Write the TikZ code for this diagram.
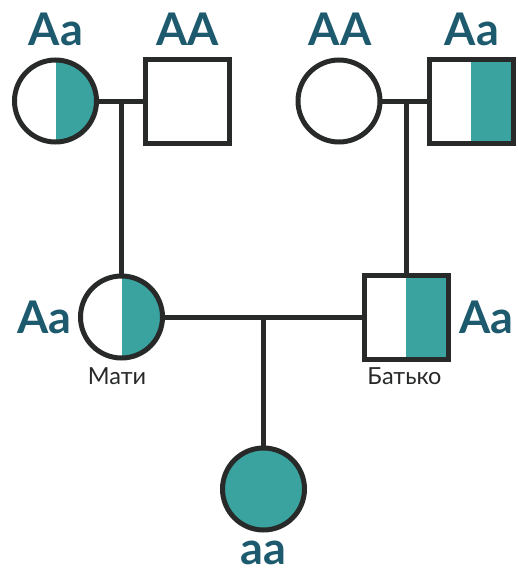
\documentclass[tikz,border=0pt]{standalone}
\usepackage{fontspec}
\setmainfont{Lato}
\newfontfamily\genofont{Lato Bold}
\definecolor{tealfill}{HTML}{3BA39F}
\definecolor{genotext}{HTML}{1E5A6E}
\definecolor{strokec}{HTML}{282A29}
\begin{document}
\begin{tikzpicture}[x=1pt,y=-1pt,
  ind/.style={draw=strokec,line width=5pt,inner sep=0pt,outer sep=0pt,fill=white},
  fem/.style={ind,circle,minimum size=82pt},
  mal/.style={ind,rectangle,minimum size=84pt},
  het/.style={path picture={\fill[tealfill] (path picture bounding box.north) rectangle (path picture bounding box.south east);}},
  aff/.style={fill=tealfill},
  link/.style={draw=strokec,line width=5pt},
  geno/.style={text=genotext,font=\genofont\fontsize{45}{50}\selectfont,inner sep=0pt},
  pname/.style={text=strokec,font=\fontsize{23.5}{28}\selectfont,inner sep=0pt}]
\useasboundingbox (0,0) rectangle (518,570);
% individuals
\node[fem,het] (gm1) at (55.5,101) {};
\node[mal] (gf1) at (187.5,101) {};
\node[fem] (gm2) at (339,101) {};
\node[mal,het] (gf2) at (471,101) {};
\node[fem,het] (mother) at (121.5,317) {};
\node[mal,het] (father) at (406,317) {};
\node[fem,aff] (child) at (263.5,489) {};
% connectors
\draw[link] (gm1.east) -- (gf1.west);
\draw[link] (gm2.east) -- (gf2.west);
\draw[link] (mother.east) -- (father.west);
\draw[link] (mother.north) -- (mother.north |- gm1.east);
\draw[link] (father.north) -- (father.north |- gm2.east);
\draw[link] (child.north) -- (child.north |- mother.east);
% genotype labels
\node[geno,anchor=base] (g1) at (56,45) {Aa};
\node[geno,anchor=base] (g2) at (187.5,45) {AA};
\node[geno,anchor=base] (g3) at (340,45) {AA};
\node[geno,anchor=base] (g4) at (472,45) {Aa};
\node[geno,anchor=base east] (g5) at (72,333) {Aa};
\node[geno,anchor=base west] (g6) at (459,333) {Aa};
\node[geno,anchor=base,text depth=0pt] (g7) at (263.5,564) {aa};
% names
\node[pname,anchor=base] (n1) at (117,384) {Мати};
\node[pname,anchor=base] (n2) at (404.5,384) {Батько};
\end{tikzpicture}
\end{document}
